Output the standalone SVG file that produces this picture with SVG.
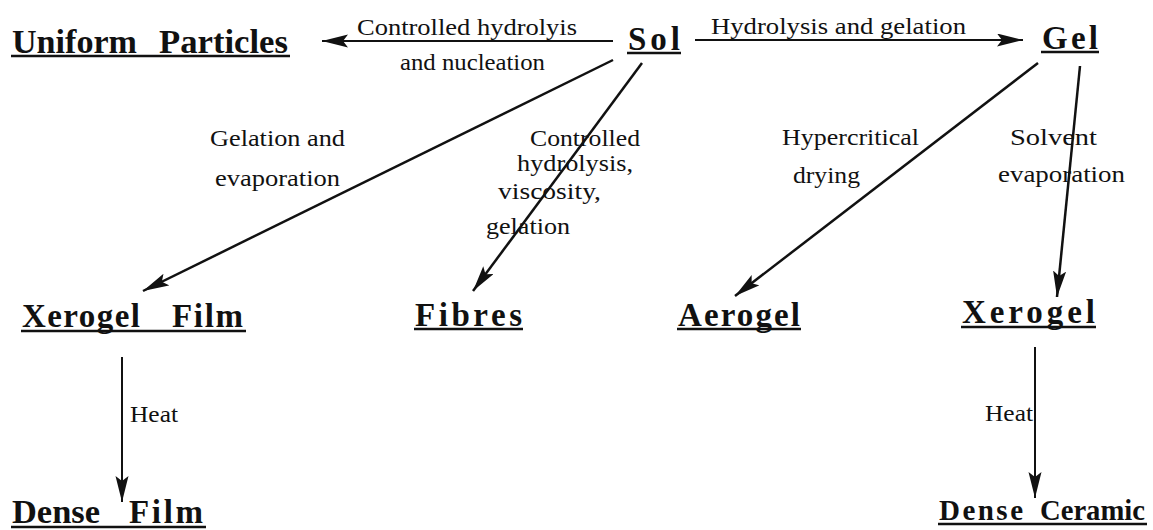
<svg xmlns="http://www.w3.org/2000/svg" width="1153" height="530" viewBox="0 0 1153 530">
<style>
.node{font-family:"Liberation Serif","Times New Roman",serif;font-weight:bold;font-size:33px;fill:#111}
.ul{stroke:#111;stroke-width:2.5}
.lbl{font-family:"Liberation Serif","Times New Roman",serif;font-size:24px;fill:#111}
.con{stroke:#111;fill:none}
</style>
<defs>
<marker id="ah" markerUnits="userSpaceOnUse" markerWidth="28" markerHeight="14" refX="26" refY="6.5" orient="auto">
<path d="M0,0 L26,6.5 L0,13 L5,6.5 z" fill="#111"/>
</marker>
</defs>
<rect width="1153" height="530" fill="#fff"/>
<g id="connectors">
<line class="con" x1="613" y1="41" x2="322" y2="41" stroke-width="2" marker-end="url(#ah)"/>
<line class="con" x1="695" y1="40" x2="1023" y2="40" stroke-width="2" marker-end="url(#ah)"/>
<line class="con" x1="613" y1="60" x2="143" y2="291" stroke-width="2.5" marker-end="url(#ah)"/>
<line class="con" x1="642" y1="63" x2="473" y2="291" stroke-width="2.5" marker-end="url(#ah)"/>
<line class="con" x1="1038" y1="63" x2="735" y2="296" stroke-width="2.5" marker-end="url(#ah)"/>
<line class="con" x1="1080" y1="66" x2="1057" y2="297" stroke-width="2.5" marker-end="url(#ah)"/>
<line class="con" x1="122" y1="357" x2="122" y2="502" stroke-width="2" marker-end="url(#ah)"/>
<line class="con" x1="1035" y1="347" x2="1035" y2="498" stroke-width="2" marker-end="url(#ah)"/>
<text class="lbl" x="357" y="35" textLength="220" lengthAdjust="spacingAndGlyphs">Controlled hydrolyis</text>
<text class="lbl" x="400" y="70" textLength="145" lengthAdjust="spacingAndGlyphs">and nucleation</text>
<text class="lbl" x="711" y="34" textLength="255" lengthAdjust="spacingAndGlyphs">Hydrolysis and gelation</text>
<text class="lbl" x="210" y="146" textLength="135" lengthAdjust="spacingAndGlyphs">Gelation and</text>
<text class="lbl" x="215" y="186" textLength="125" lengthAdjust="spacingAndGlyphs">evaporation</text>
<text class="lbl" x="530" y="146" textLength="110" lengthAdjust="spacingAndGlyphs">Controlled</text>
<text class="lbl" x="517" y="171" textLength="116" lengthAdjust="spacingAndGlyphs">hydrolysis,</text>
<text class="lbl" x="498" y="199" textLength="103" lengthAdjust="spacingAndGlyphs">viscosity,</text>
<text class="lbl" x="486" y="234" textLength="84" lengthAdjust="spacingAndGlyphs">gelation</text>
<text class="lbl" x="782" y="145" textLength="137" lengthAdjust="spacingAndGlyphs">Hypercritical</text>
<text class="lbl" x="793" y="183" textLength="67" lengthAdjust="spacingAndGlyphs">drying</text>
<text class="lbl" x="1010" y="145" textLength="87" lengthAdjust="spacingAndGlyphs">Solvent</text>
<text class="lbl" x="998" y="182" textLength="127" lengthAdjust="spacingAndGlyphs">evaporation</text>
<text class="lbl" x="130" y="422" textLength="48" lengthAdjust="spacingAndGlyphs">Heat</text>
<text class="lbl" x="985" y="421" textLength="48" lengthAdjust="spacingAndGlyphs">Heat</text>
</g>
<g id="uniform-particles">
<text class="node" y="53"><tspan x="12" textLength="125" lengthAdjust="spacingAndGlyphs">Uniform</tspan><tspan x="159" textLength="129" lengthAdjust="spacingAndGlyphs">Particles</tspan></text>
<line class="ul" x1="11" y1="56" x2="290" y2="56"/>
</g>
<g id="sol">
<text class="node" x="628" y="50" textLength="52" lengthAdjust="spacing">Sol</text>
<line class="ul" x1="627" y1="53" x2="681" y2="53"/>
</g>
<g id="gel">
<text class="node" x="1042" y="49" textLength="56" lengthAdjust="spacing">Gel</text>
<line class="ul" x1="1041" y1="52" x2="1099" y2="52"/>
</g>
<g id="xerogel-film">
<text class="node" y="327"><tspan x="22" textLength="118" lengthAdjust="spacing">Xerogel</tspan><tspan x="172" textLength="71" lengthAdjust="spacing">Film</tspan></text>
<line class="ul" x1="21" y1="331" x2="246" y2="331"/>
</g>
<g id="fibres">
<text class="node" x="415" y="326" textLength="107" lengthAdjust="spacing">Fibres</text>
<line class="ul" x1="414" y1="329" x2="523" y2="329"/>
</g>
<g id="aerogel">
<text class="node" x="678" y="326" textLength="122" lengthAdjust="spacing">Aerogel</text>
<line class="ul" x1="677" y1="329" x2="801" y2="329"/>
</g>
<g id="xerogel">
<text class="node" x="962" y="323" textLength="133" lengthAdjust="spacing">Xerogel</text>
<line class="ul" x1="961" y1="327" x2="1096" y2="327"/>
</g>
<g id="dense-film">
<text class="node" y="523"><tspan x="12" textLength="88" lengthAdjust="spacingAndGlyphs">Dense</tspan><tspan x="129" textLength="74" lengthAdjust="spacing">Film</tspan></text>
<line class="ul" x1="11" y1="527" x2="206" y2="527"/>
</g>
<g id="dense-ceramic">
<text class="node" y="520" style="font-size:29px"><tspan x="939" textLength="84" lengthAdjust="spacing">Dense</tspan><tspan x="1040" textLength="105" lengthAdjust="spacingAndGlyphs">Ceramic</tspan></text>
<line class="ul" x1="938" y1="524" x2="1147" y2="524"/>
</g>
</svg>
